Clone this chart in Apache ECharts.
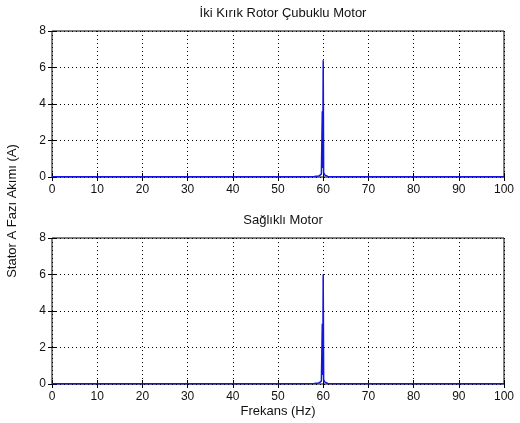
<!DOCTYPE html>
<html>
<head>
<meta charset="utf-8">
<script src="https://cdn.jsdelivr.net/npm/echarts@6/dist/echarts.min.js"></script>
<style>
  html, body { margin: 0; padding: 0; background: #fff; }
  #main { width: 520px; height: 423px; }
</style>
</head>
<body>
<div id="main"></div>
<script>
// spectrum samples (Hz, A)
var freqTop = [0, 20, 40, 55, 58, 59, 59.4, 59.6, 59.7, 59.8, 59.9, 60.0, 60.1, 60.3, 60.5, 61, 62, 65, 80, 100];
var ampTop  = [0.02, 0.02, 0.02, 0.02, 0.03, 0.05, 0.1, 0.16, 0.25, 3.6, 0.5, 6.4, 0.25, 0.12, 0.06, 0.03, 0.02, 0.02, 0.02, 0.02];

var freqBottom = [0, 20, 40, 55, 58, 59, 59.4, 59.6, 59.7, 59.8, 59.9, 60.0, 60.1, 60.3, 60.5, 61, 62, 65, 80, 100];
var ampBottom  = [0.02, 0.02, 0.02, 0.02, 0.03, 0.05, 0.1, 0.16, 0.25, 3.3, 0.5, 6.0, 0.25, 0.12, 0.06, 0.03, 0.02, 0.02, 0.02, 0.02];

var titles = ['İki Kırık Rotor Çubuklu Motor', 'Sağlıklı Motor'];
var yLabel = 'Stator A Fazı Akımı (A)';
var xLabel = 'Frekans (Hz)';

function pairs(xs, ys) {
    var out = [];
    for (var i = 0; i < xs.length; i++) out.push([xs[i], ys[i]]);
    return out;
}

var font = 'Liberation Sans, Arial, sans-serif';
var dotted = { color: '#000', width: 1, type: [1, 3] };

function xAx(idx, top) {
    return {
        type: 'value', gridIndex: idx, min: 0, max: 100, interval: 10,
        position: top ? 'top' : 'bottom',
        axisLine: { show: false },
        axisTick: { show: true, inside: true, length: 4, lineStyle: { color: '#000' } },
        axisLabel: { show: !top, color: '#111', fontSize: 12, fontFamily: font, margin: 7 },
        splitLine: { show: !top, lineStyle: dotted }
    };
}
function yAx(idx, right) {
    return {
        type: 'value', gridIndex: idx, min: 0, max: 8, interval: 2,
        position: right ? 'right' : 'left',
        axisLine: { show: false },
        axisTick: { show: true, inside: true, length: 4, lineStyle: { color: '#000' } },
        axisLabel: { show: !right, color: '#111', fontSize: 12, fontFamily: font, margin: 6 },
        splitLine: { show: !right, lineStyle: dotted }
    };
}

var myChart = echarts.init(document.getElementById('main'));
var option = {
    animation: false,
    backgroundColor: '#fff',
    title: [
        { text: titles[0], left: 278, top: 2, textAlign: 'center',
          textStyle: { fontSize: 13, fontWeight: 'normal', color: '#111', fontFamily: font } },
        { text: titles[1], left: 278, top: 209, textAlign: 'center',
          textStyle: { fontSize: 13, fontWeight: 'normal', color: '#111', fontFamily: font } }
    ],
    grid: [
        { left: 52, top: 31, width: 452, height: 146, show: true, borderColor: '#000', borderWidth: 1, backgroundColor: '#fff' },
        { left: 52, top: 238, width: 452, height: 146, show: true, borderColor: '#000', borderWidth: 1, backgroundColor: '#fff' }
    ],
    xAxis: [xAx(0, false), xAx(0, true), xAx(1, false), xAx(1, true)],
    yAxis: [yAx(0, false), yAx(0, true), yAx(1, false), yAx(1, true)],
    graphic: [
        { type: 'text', x: 278, y: 405,
          style: { text: xLabel, fontSize: 13, fill: '#111', fontFamily: font, align: 'center' } },
        { type: 'text', x: 6, y: 211, rotation: Math.PI / 2,
          style: { text: yLabel, fontSize: 13, fill: '#111', fontFamily: font, align: 'center' } }
    ],
    series: [
        { type: 'line', xAxisIndex: 0, yAxisIndex: 0, data: pairs(freqTop, ampTop),
          showSymbol: false, lineStyle: { color: '#1515e0', width: 1.5 }, silent: true },
        { type: 'line', xAxisIndex: 2, yAxisIndex: 2, data: pairs(freqBottom, ampBottom),
          showSymbol: false, lineStyle: { color: '#1515e0', width: 1.5 }, silent: true }
    ]
};
myChart.setOption(option);
</script>
</body>
</html>
